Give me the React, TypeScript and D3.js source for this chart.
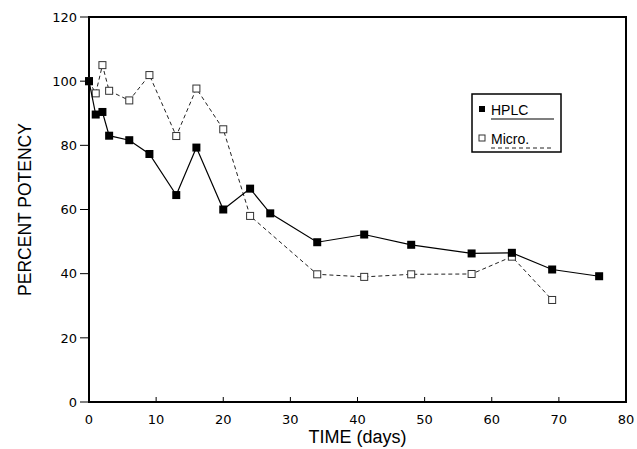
import React from "react";
import * as d3 from "d3";

// values
const hplcDays = [0, 1, 2, 3, 6, 9, 13, 16, 20, 24, 27, 34, 41, 48, 57, 63, 69, 76];
const hplcPotency = [100, 89.6, 90.4, 83, 81.6, 77.3, 64.5, 79.3, 60, 66.5, 58.8, 49.8, 52.2, 49, 46.3, 46.5, 41.3, 39.2];
const microDays = [0, 1, 2, 3, 6, 9, 13, 16, 20, 24, 34, 41, 48, 57, 63, 69];
const microPotency = [100, 96.2, 105, 97, 94, 101.9, 82.9, 97.7, 85, 58, 39.8, 39, 39.8, 39.9, 45.3, 31.8];
const xTicks = [0, 10, 20, 30, 40, 50, 60, 70, 80];
const yTicks = [0, 20, 40, 60, 80, 100, 120];

const width = 637;
const height = 449;
const margin = { top: 17, right: 11, bottom: 47, left: 89 };
const font = "'Liberation Sans', Arial, sans-serif";
const tickFont = "'DejaVu Sans', sans-serif";

export default function App() {
  const x = d3.scaleLinear().domain([0, 80]).range([margin.left, width - margin.right]);
  const y = d3.scaleLinear().domain([0, 120]).range([height - margin.bottom, margin.top]);

  const hplc = hplcDays.map((d, i) => [d, hplcPotency[i]] as [number, number]);
  const micro = microDays.map((d, i) => [d, microPotency[i]] as [number, number]);
  const line = d3
    .line<[number, number]>()
    .x((d) => x(d[0]))
    .y((d) => y(d[1]));

  const x0 = x(0);
  const x1 = x(80);
  const yb = y(0);
  const yt = y(120);

  return (
    <svg
      width={width}
      height={height}
      style={{ position: "absolute", left: 0, top: 0, background: "#fff" }}
      fontFamily={font}
    >
      {/* frame */}
      <rect x={x0} y={yt} width={x1 - x0} height={yb - yt} fill="none" stroke="#000" strokeWidth={2} />

      {/* y axis ticks and labels */}
      {yTicks.map((t) => (
        <g key={"y" + t}>
          <line x1={x0 - 9} x2={x0} y1={y(t)} y2={y(t)} stroke="#000" strokeWidth={1} />
          <text x={x0 - 12} y={y(t)} dy="0.36em" textAnchor="end" fontSize={13} fontFamily={tickFont}>
            {t}
          </text>
        </g>
      ))}

      {/* x axis ticks and labels */}
      {xTicks.map((t) => (
        <g key={"x" + t}>
          <line x1={x(t)} x2={x(t)} y1={yb} y2={yb - 5} stroke="#000" strokeWidth={1} />
          <text x={x(t)} y={yb + 17} dy="0.36em" textAnchor="middle" fontSize={13} fontFamily={tickFont}>
            {t}
          </text>
        </g>
      ))}

      <text x={(x0 + x1) / 2} y={443} textAnchor="middle" fontSize={18}>
        TIME (days)
      </text>
      <text
        transform={`translate(31,${(yt + yb) / 2}) rotate(-90)`}
        textAnchor="middle"
        fontSize={17.5}
      >
        PERCENT POTENCY
      </text>

      {/* Micro series */}
      <path d={line(micro) ?? ""} fill="none" stroke="#222" strokeWidth={1} strokeDasharray="4,3" />
      {micro.map((d, i) => (
        <rect
          key={"m" + i}
          x={x(d[0]) - 3.5}
          y={y(d[1]) - 3.5}
          width={7}
          height={7}
          fill="#fff"
          stroke="#333"
          strokeWidth={1}
        />
      ))}

      {/* HPLC series */}
      <path d={line(hplc) ?? ""} fill="none" stroke="#000" strokeWidth={1.2} />
      {hplc.map((d, i) => (
        <rect key={"h" + i} x={x(d[0]) - 4} y={y(d[1]) - 4} width={8} height={8} fill="#000" />
      ))}

      {/* legend */}
      <g>
        <rect x={472} y={94} width={89} height={58} fill="#fff" stroke="#000" strokeWidth={1.5} />
        <rect x={479} y={106} width={6} height={6} fill="#000" />
        <text x={491} y={115} fontSize={14}>
          HPLC
        </text>
        <line x1={491} x2={554} y1={119} y2={119} stroke="#000" strokeWidth={1.2} />
        <rect x={479} y={135} width={6} height={6} fill="#fff" stroke="#333" strokeWidth={1} />
        <text x={491} y={144} fontSize={14}>
          Micro.
        </text>
        <line x1={491} x2={554} y1={148} y2={148} stroke="#222" strokeWidth={1} strokeDasharray="4,3" />
      </g>
    </svg>
  );
}
